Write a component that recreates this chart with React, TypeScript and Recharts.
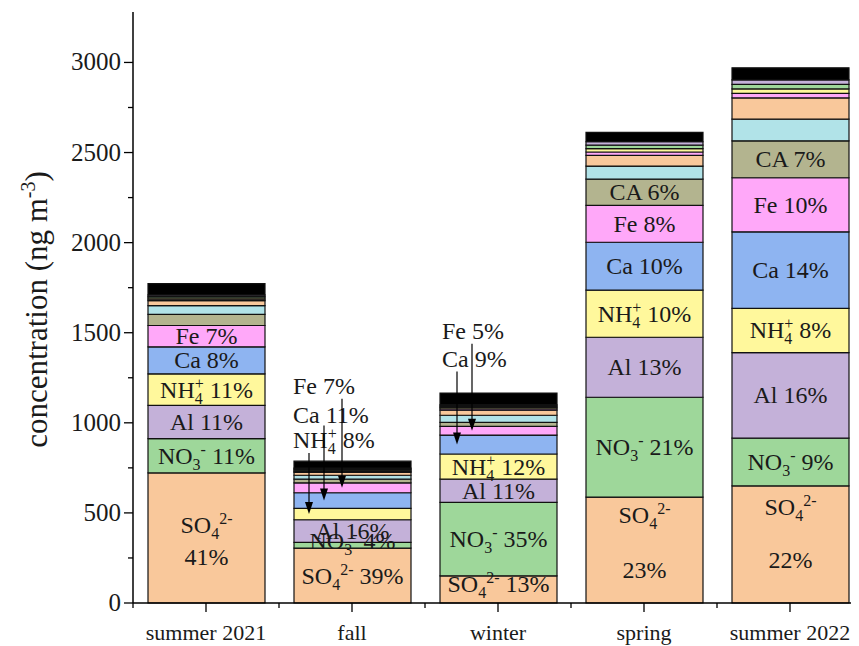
import React from 'react';
import { BarChart, Bar, XAxis, YAxis, LabelList } from 'recharts';

// categories
const seasons = ['summer 2021', 'fall', 'winter', 'spring', 'summer 2022'];

// stacked concentrations in ng m-3, bottom to top
const so4 = [722, 305, 151, 588, 650];
const no3 = [190, 31, 408, 554, 265];
const al = [185, 126, 128, 333, 475];
const nh4 = [175, 63, 140, 261, 245];
const ca = [150, 87, 105, 266, 425];
const fe = [118, 55, 48, 205, 300];
const caUpper = [62, 20, 22, 145, 205];
const mg = [48, 22, 40, 73, 120];
const na = [28, 16, 28, 59, 118];
const k = [8, 6, 8, 19, 25];
const zn = [8, 6, 8, 19, 25];
const cu = [8, 6, 7, 19, 25];
const ti = [8, 6, 7, 19, 25];
const others = [62, 38, 65, 52, 67];

// percentage labels
const so4Pct = ['41%', '39%', '13%', '23%', '22%'];
const no3Pct = ['11%', '4%', '35%', '21%', '9%'];
const alPct = ['11%', '16%', '11%', '13%', '16%'];
const nh4Pct = ['11%', '8%', '12%', '10%', '8%'];
const caPct = ['8%', '11%', '9%', '10%', '14%'];
const fePct = ['7%', '7%', '5%', '8%', '10%'];
const caUpperPct = ['', '', '', '6%', '7%'];

const yTicks = [0, 250, 500, 750, 1000, 1250, 1500, 1750, 2000, 2250, 2500, 2750, 3000];

const series = [
  { key: 'so4', values: so4, fill: '#F9C89B' },
  { key: 'no3', values: no3, fill: '#9ED79A' },
  { key: 'al', values: al, fill: '#C4B1D9' },
  { key: 'nh4', values: nh4, fill: '#FFF89C' },
  { key: 'ca', values: ca, fill: '#8EB4F1' },
  { key: 'fe', values: fe, fill: '#FFA8F9' },
  { key: 'caUpper', values: caUpper, fill: '#B3B48F' },
  { key: 'mg', values: mg, fill: '#B1E3E8' },
  { key: 'na', values: na, fill: '#F9C89B' },
  { key: 'k', values: k, fill: '#FFA8F9' },
  { key: 'zn', values: zn, fill: '#FFF89C' },
  { key: 'cu', values: cu, fill: '#9ED79A' },
  { key: 'ti', values: ti, fill: '#C4B1D9' },
  { key: 'others', values: others, fill: '#000000' },
];

const data = seasons.map((s, i) => {
  const row: any = { season: s, idx: i };
  series.forEach((sr) => { row[sr.key] = sr.values[i]; });
  return row;
});

type Part = { t: string; s?: 'sub' | 'sup' | 'stack' };

const labelSpec: Record<string, { formula: Part[]; pct: string[] }> = {
  so4: { formula: [{ t: 'SO' }, { t: '4', s: 'sub' }, { t: '2-', s: 'sup' }], pct: so4Pct },
  no3: { formula: [{ t: 'NO' }, { t: '3', s: 'sub' }, { t: '-', s: 'sup' }], pct: no3Pct },
  al: { formula: [{ t: 'Al' }], pct: alPct },
  nh4: { formula: [{ t: 'NH' }, { t: '4', s: 'sub' }, { t: '+', s: 'stack' }], pct: nh4Pct },
  ca: { formula: [{ t: 'Ca' }], pct: caPct },
  fe: { formula: [{ t: 'Fe' }], pct: fePct },
  caUpper: { formula: [{ t: 'CA' }], pct: caUpperPct },
};

// label placement tweaks (px, relative to segment)
const callouts: Record<string, { arrowX: number; textX: number; textY: number; lineTop: number }> = {
  'nh4-1': { arrowX: 15, textX: -1, textY: -66, lineTop: -61 },
  'ca-1': { arrowX: 30, textX: -1, textY: -78, lineTop: -75 },
  'fe-1': { arrowX: 48, textX: -1, textY: -94, lineTop: -89 },
  'ca-2': { arrowX: 17, textX: 2, textY: -78, lineTop: -73 },
  'fe-2': { arrowX: 32, textX: 2, textY: -92, lineTop: -87 },
};
const nudge: Record<string, number> = { 'no3-1': -4, 'so4-2': -5 };
const so4Lines: Record<number, number[]> = { 0: [-5, 27], 3: [-27, 28], 4: [-29, 24] };

const FONT = '"Liberation Serif", "Times New Roman", serif';
const FS = 24;
const SFS = 16;
const INK = '#1a1a1a';

function chemSpans(parts: Part[], tail: string) {
  const out: React.ReactNode[] = [];
  let cur = 0;
  parts.forEach((pt, j) => {
    if (!pt.s) {
      out.push(<tspan key={j} dy={-cur} fontSize={FS}>{pt.t}</tspan>);
      cur = 0;
    } else if (pt.s === 'sub') {
      out.push(<tspan key={j} dy={6 - cur} fontSize={SFS}>{pt.t}</tspan>);
      cur = 6;
    } else if (pt.s === 'sup') {
      out.push(<tspan key={j} dy={-9 - cur} fontSize={SFS}>{pt.t}</tspan>);
      cur = -9;
    } else {
      out.push(<tspan key={j} dx={-8} dy={-9 - cur} fontSize={SFS}>{pt.t}</tspan>);
      cur = -9;
    }
  });
  if (tail) out.push(<tspan key="tail" dy={-cur} fontSize={FS}>{tail}</tspan>);
  return out;
}

const makeLabel = (key: string) => (p: any) => {
  const spec = labelSpec[key];
  const i = typeof p.value === 'number' ? p.value : p.index;
  const pct = spec.pct[i];
  if (!pct) return null;
  const vb = p.viewBox ?? p;
  const bx = Number(vb.x);
  const by = Number(vb.y);
  const bw = Number(vb.width);
  const bh = Number(vb.height);
  const top = Math.min(by, by + bh);
  const cy = top + Math.abs(bh) / 2;
  const cx = bx + bw / 2;
  const id = `${key}-${i}`;
  const textProps = { fontFamily: FONT, fontSize: FS, fill: INK, style: { whiteSpace: 'pre' as const } };
  const co = callouts[id];
  if (co) {
    const ax = bx + co.arrowX;
    return (
      <g>
        <text x={bx + co.textX} y={cy + co.textY} textAnchor="start" {...textProps}>
          {chemSpans(spec.formula, ' ' + pct)}
        </text>
        <line x1={ax} y1={cy + co.lineTop} x2={ax} y2={cy - 11} stroke="#000" strokeWidth={1.2} />
        <polygon points={`${ax - 4},${cy - 12} ${ax + 4},${cy - 12} ${ax},${cy}`} fill="#000" />
      </g>
    );
  }
  if (key === 'so4' && so4Lines[i]) {
    const [l1, l2] = so4Lines[i];
    return (
      <g>
        <text x={cx} y={cy + l1} textAnchor="middle" {...textProps}>{chemSpans(spec.formula, '')}</text>
        <text x={cx} y={cy + l2} textAnchor="middle" {...textProps}>{pct}</text>
      </g>
    );
  }
  return (
    <text x={cx} y={cy + 8 + (nudge[id] ?? 0)} textAnchor="middle" {...textProps}>
      {chemSpans(spec.formula, ' ' + pct)}
    </text>
  );
};

const YTick = (p: any) => {
  const { x, y, payload } = p;
  const major = payload.value % 500 === 0;
  return (
    <g>
      <line x1={x - (major ? 9 : 5)} y1={y} x2={x} y2={y} stroke="#000" strokeWidth={1.3} />
      {major && (
        <text x={x - 12} y={y + 8} textAnchor="end" fontFamily={FONT} fontSize={25} fill={INK}>
          {payload.value}
        </text>
      )}
    </g>
  );
};

const XTick = (p: any) => {
  const { x, y, payload, index } = p;
  return (
    <g>
      <line x1={x} y1={y} x2={x} y2={y + 9} stroke="#000" strokeWidth={1.3} />
      <line x1={x + 73} y1={y} x2={x + 73} y2={y + 5} stroke="#000" strokeWidth={1.3} />
      {index === 0 && <line x1={x - 73} y1={y} x2={x - 73} y2={y + 5} stroke="#000" strokeWidth={1.3} />}
      <text x={x} y={y + 37} textAnchor="middle" fontFamily={FONT} fontSize={22} fill={INK}>
        {payload.value}
      </text>
    </g>
  );
};

const YTitle = (p: any) => {
  const vb = p.viewBox ?? { y: 4, height: 591 };
  const cx = 39;
  const cy = vb.y + vb.height / 2 + 2;
  return (
    <text
      x={cx}
      y={cy}
      transform={`rotate(-90 ${cx} ${cy})`}
      textAnchor="middle"
      fontFamily={FONT}
      fontSize={31}
      fill={INK}
    >
      concentration (ng m<tspan dy={-12} fontSize={20}>-3</tspan>
      <tspan dy={12}>)</tspan>
    </text>
  );
};

export default function App() {
  return (
    <div style={{ width: 851, height: 638, overflow: 'hidden' }}>
      <BarChart width={860} height={638} data={data} margin={{ top: 4, right: 5, left: 0, bottom: 0 }} barSize={117}>
        <XAxis
          dataKey="season"
          height={43}
          interval={0}
          tickSize={0}
          tickMargin={0}
          tick={<XTick />}
          axisLine={{ stroke: '#000', strokeWidth: 1.5 }}
        />
        <YAxis
          width={125}
          type="number"
          domain={[0, 3280]}
          ticks={yTicks}
          interval={0}
          tickSize={0}
          tickMargin={0}
          tick={<YTick />}
          axisLine={{ stroke: '#000', strokeWidth: 1.5 }}
          label={{ content: (lp: any) => <YTitle {...lp} /> }}
        />
        {series.map((sr) => (
          <Bar
            key={sr.key}
            dataKey={sr.key}
            stackId="a"
            fill={sr.fill}
            stroke="#111"
            strokeWidth={1.2}
            isAnimationActive={false}
          >
            {labelSpec[sr.key] && <LabelList dataKey="idx" content={makeLabel(sr.key)} />}
          </Bar>
        ))}
      </BarChart>
    </div>
  );
}
